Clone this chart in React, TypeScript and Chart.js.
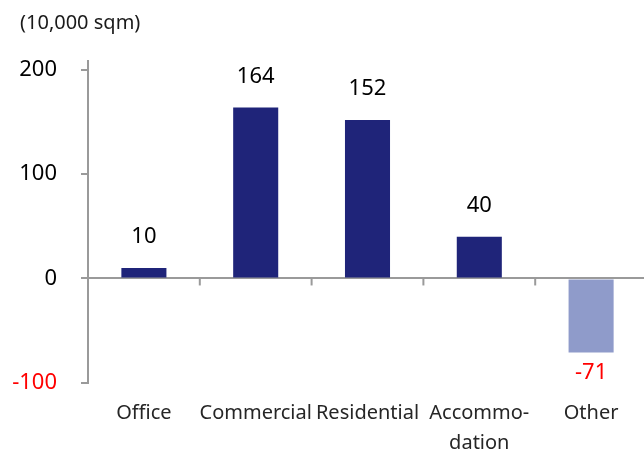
import React, { useEffect, useRef } from "react";
import { Chart, registerables } from "chart.js";

Chart.register(...registerables);

const categories: (string | string[])[] = ["Office", "Commercial", "Residential", ["Accommo-", "dation"], "Other"];
const values: number[] = [10, 164, 152, 40, -71];
const barColors: string[] = ["#1F2479", "#1F2479", "#1F2479", "#1F2479", "#8F9BCA"];
const yTicks: number[] = [-100, 0, 100, 200];
const unitLabel = "(10,000 sqm)";

const FONT = "'Noto Sans', sans-serif";
const AXIS_GRAY = "#9a9a9a";

const overlayPlugin = {
  id: "overlay",
  afterDatasetsDraw(chart: any) {
    const { ctx } = chart;
    const meta = chart.getDatasetMeta(0);
    const x = chart.scales.x;
    const y = chart.scales.y;
    const y0 = y.getPixelForValue(0);
    ctx.save();
    // category boundary ticks on the zero line
    ctx.strokeStyle = AXIS_GRAY;
    ctx.lineWidth = 2;
    for (let i = 1; i < categories.length; i++) {
      const bx = (x.getPixelForValue(i - 1) + x.getPixelForValue(i)) / 2;
      ctx.beginPath();
      ctx.moveTo(bx, y0);
      ctx.lineTo(bx, y0 + 7);
      ctx.stroke();
    }
    // value labels
    ctx.font = `22px ${FONT}`;
    ctx.textAlign = "center";
    ctx.textBaseline = "middle";
    meta.data.forEach((bar: any, i: number) => {
      const v = values[i];
      ctx.fillStyle = v < 0 ? "#FF0000" : "#000000";
      const ty = v < 0 ? bar.y + 20 : bar.y - 31;
      ctx.fillText(String(v), bar.x, ty);
    });
    // unit label
    ctx.font = `20px ${FONT}`;
    ctx.textAlign = "left";
    ctx.fillStyle = "#1a1a1a";
    ctx.fillText(unitLabel, 20, 23);
    ctx.restore();
  },
};

export default function App() {
  const ref = useRef<HTMLCanvasElement>(null);
  useEffect(() => {
    if (!ref.current) return;
    const chart = new Chart(ref.current, {
      type: "bar",
      data: {
        labels: categories as any,
        datasets: [
          {
            data: values,
            backgroundColor: barColors,
            borderWidth: 0,
            categoryPercentage: 1,
            barPercentage: 0.403,
          },
        ],
      },
      options: {
        responsive: false,
        animation: false,
        layout: { padding: { left: 0, right: 3, top: 61, bottom: 0 } },
        plugins: {
          legend: { display: false },
          tooltip: { enabled: false },
          title: { display: false },
        },
        scales: {
          x: {
            offset: true,
            grid: { display: false, drawTicks: false },
            border: { display: false },
            ticks: {
              color: "#262626",
              font: { family: FONT, size: 20, lineHeight: "30px" } as any,
              padding: 16,
              maxRotation: 0,
              autoSkip: false,
            },
            afterFit: (s: any) => {
              s.height = 69.3;
            },
          },
          y: {
            min: -100,
            max: 208.6,
            afterBuildTicks: (s: any) => {
              s.ticks = yTicks.map((v) => ({ value: v }));
            },
            afterFit: (s: any) => {
              s.width = 88;
            },
            grid: {
              color: (c: any) => (c.tick && c.tick.value === 0 ? AXIS_GRAY : "rgba(0,0,0,0)"),
              lineWidth: 2,
              tickColor: AXIS_GRAY,
              tickLength: 7,
              drawTicks: true,
            },
            border: { display: true, color: AXIS_GRAY, width: 2 },
            ticks: {
              color: (c: any) => (c.tick && c.tick.value < 0 ? "#FF0000" : "#000000"),
              font: { family: FONT, size: 22 },
              padding: 24,
            },
          },
        },
      },
      plugins: [overlayPlugin],
    });
    return () => chart.destroy();
  }, []);
  return (
    <div style={{ position: "fixed", left: 0, top: 0, width: 644, height: 452, overflow: "hidden", background: "#fff" }}>
      <canvas ref={ref} width={650} height={452} style={{ display: "block", width: 650, height: 452 }} />
    </div>
  );
}
